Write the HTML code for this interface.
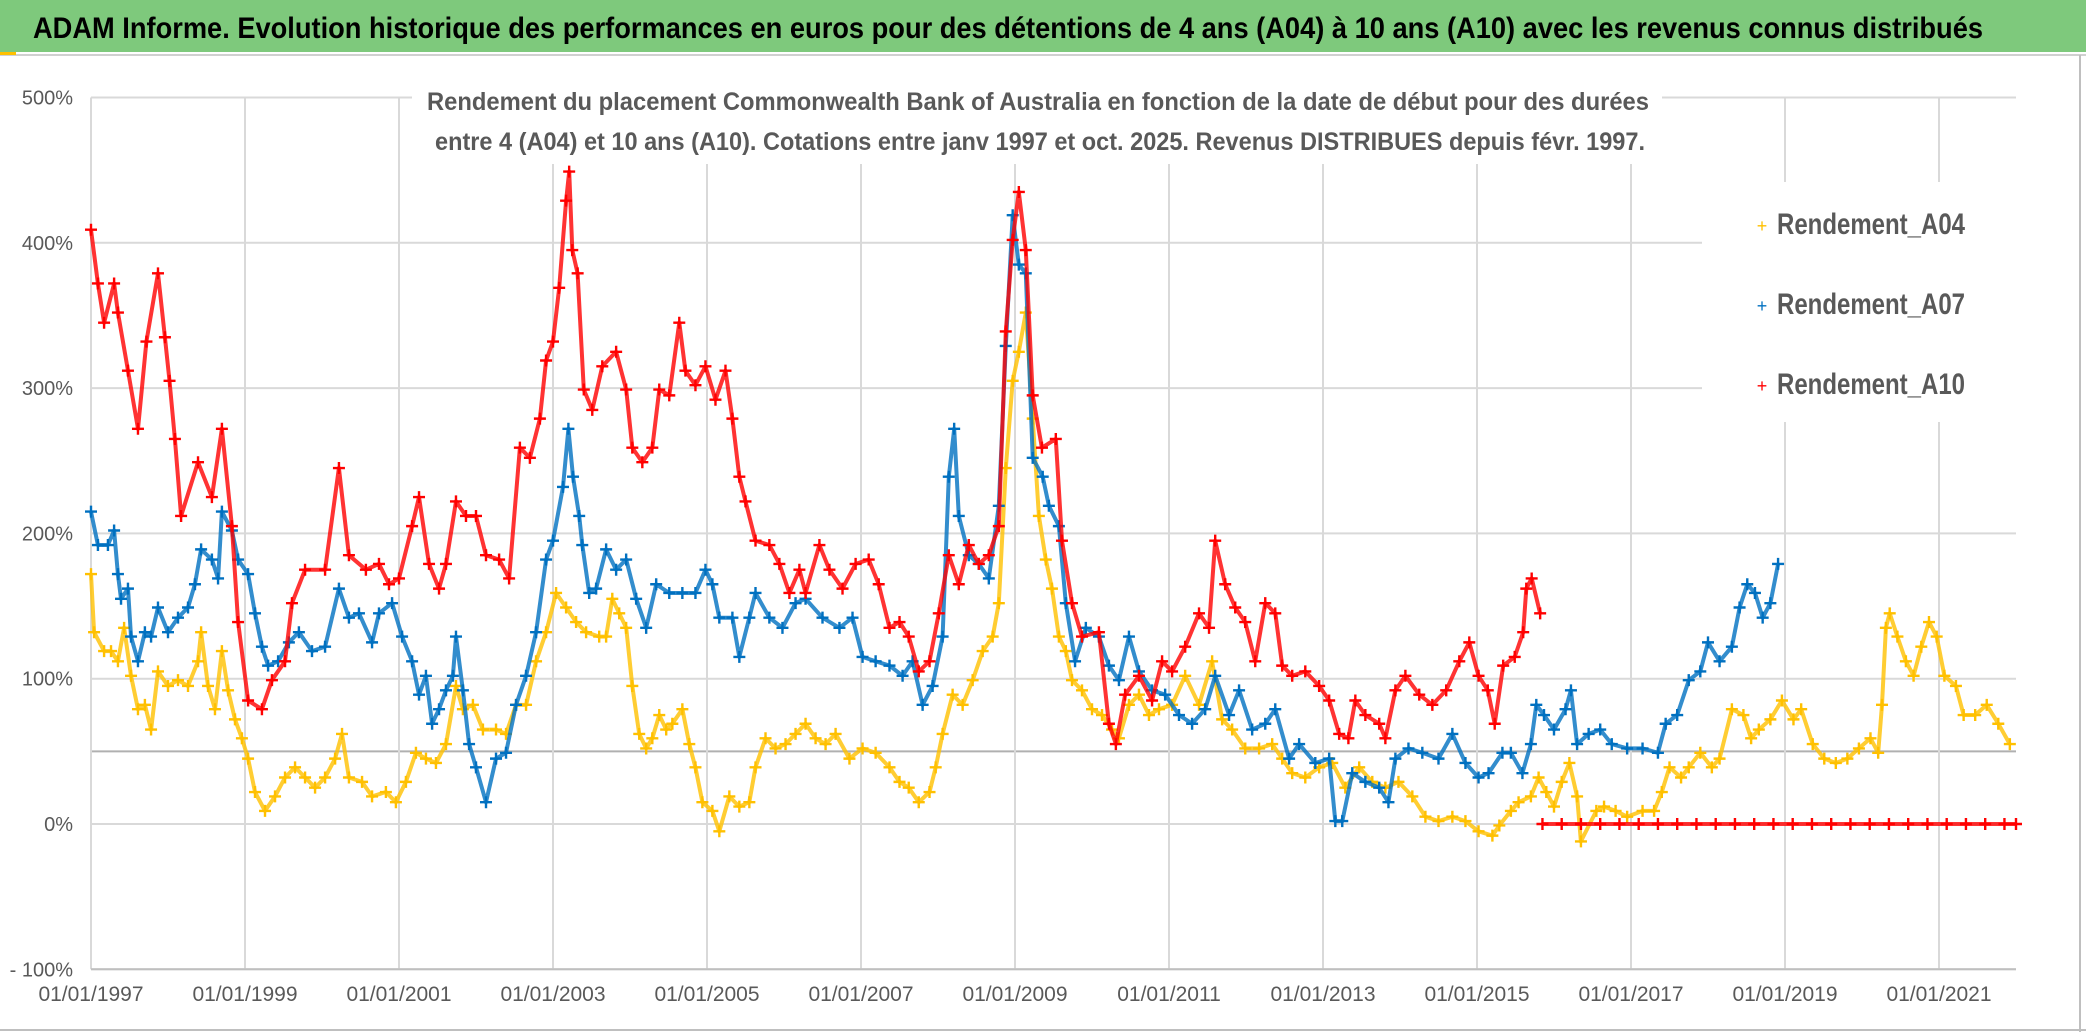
<!DOCTYPE html>
<html><head><meta charset="utf-8"><style>
html,body{margin:0;padding:0;background:#fff;}
svg{display:block;font-family:"Liberation Sans Narrow","Liberation Sans",sans-serif;}
</style></head><body>
<svg id="chart" width="2086" height="1032" viewBox="0 0 2086 1032" xmlns="http://www.w3.org/2000/svg">
<rect x="0" y="0" width="2086" height="1032" fill="#fff"/>
<rect x="0" y="0" width="2086" height="52" fill="#7ec97c"/>
<line x1="0" y1="55" x2="2086" y2="55" stroke="#d0d0d0" stroke-width="2"/>
<rect x="0" y="52" width="16" height="3" fill="#ffc000"/>
<text x="33" y="38" font-size="30" font-weight="bold" fill="#000" textLength="1950" lengthAdjust="spacingAndGlyphs">ADAM Informe. Evolution historique des performances en euros pour des détentions de 4 ans (A04) à 10 ans (A10) avec les revenus connus distribués</text>
<line x1="2080" y1="55" x2="2080" y2="1032" stroke="#bfbfbf" stroke-width="2"/>
<line x1="0" y1="1030" x2="2086" y2="1030" stroke="#bfbfbf" stroke-width="2"/>
<g id="grid"></g>
<g id="axes"></g>
<g id="series"></g>
<rect x="412" y="86" width="1250" height="78" fill="#fff"/>
<text x="1038" y="110" font-size="25" font-weight="bold" fill="#595959" text-anchor="middle" textLength="1222" lengthAdjust="spacingAndGlyphs">Rendement du placement Commonwealth Bank of Australia en fonction de la date de début pour des durées</text>
<text x="1040" y="150" font-size="25" font-weight="bold" fill="#595959" text-anchor="middle" textLength="1210" lengthAdjust="spacingAndGlyphs">entre 4 (A04) et 10 ans (A10). Cotations entre janv 1997 et oct. 2025. Revenus DISTRIBUES depuis févr. 1997.</text>
<g>
<rect x="1702" y="182" width="314" height="240" fill="#fff"/>
<g>
<text x="1762" y="232" font-size="18" fill="#ffc000" text-anchor="middle">+</text>
<text x="1777" y="234" font-size="30" font-weight="bold" fill="#595959" textLength="188" lengthAdjust="spacingAndGlyphs">Rendement_A04</text></g>
<g>
<text x="1762" y="312" font-size="18" fill="#0070c0" text-anchor="middle">+</text>
<text x="1777" y="314" font-size="30" font-weight="bold" fill="#595959" textLength="188" lengthAdjust="spacingAndGlyphs">Rendement_A07</text></g>
<g>
<text x="1762" y="392" font-size="18" fill="#ff0000" text-anchor="middle">+</text>
<text x="1777" y="394" font-size="30" font-weight="bold" fill="#595959" textLength="188" lengthAdjust="spacingAndGlyphs">Rendement_A10</text></g>
</g>
</svg>
<script>
const yTicks = [500,400,300,200,100,0,-100];
const yTickLabels = ["500%","400%","300%","200%","100%","0%","- 100%"];
const xTicks = [1997,1999,2001,2003,2005,2007,2009,2011,2013,2015,2017,2019,2021];
const xTickLabels = ["01/01/1997","01/01/1999","01/01/2001","01/01/2003","01/01/2005","01/01/2007","01/01/2009","01/01/2011","01/01/2013","01/01/2015","01/01/2017","01/01/2019","01/01/2021"];

const datesA04 = [1997.0,1997.04,1997.17,1997.26,1997.35,1997.43,1997.52,1997.61,1997.7,1997.78,1997.87,1998.0,1998.13,1998.26,1998.39,1998.43,1998.52,1998.61,1998.7,1998.78,1998.87,1998.96,1999.04,1999.13,1999.26,1999.39,1999.52,1999.65,1999.78,1999.91,2000.04,2000.17,2000.26,2000.35,2000.52,2000.65,2000.83,2000.96,2001.09,2001.22,2001.35,2001.48,2001.61,2001.74,2001.83,2001.96,2002.09,2002.26,2002.39,2002.52,2002.65,2002.78,2002.91,2003.04,2003.17,2003.3,2003.43,2003.6,2003.69,2003.77,2003.86,2003.95,2004.03,2004.12,2004.21,2004.29,2004.38,2004.47,2004.55,2004.68,2004.77,2004.85,2004.94,2005.07,2005.16,2005.29,2005.42,2005.55,2005.63,2005.76,2005.89,2006.02,2006.15,2006.28,2006.41,2006.54,2006.67,2006.85,2007.02,2007.19,2007.37,2007.5,2007.62,2007.75,2007.89,2007.97,2008.06,2008.19,2008.32,2008.45,2008.58,2008.71,2008.79,2008.88,2008.97,2009.05,2009.14,2009.23,2009.31,2009.4,2009.48,2009.57,2009.66,2009.74,2009.87,2010.0,2010.13,2010.26,2010.35,2010.48,2010.61,2010.74,2010.87,2011.04,2011.21,2011.39,2011.56,2011.69,2011.82,2011.99,2012.17,2012.34,2012.47,2012.6,2012.77,2012.95,2013.12,2013.29,2013.47,2013.64,2013.81,2013.98,2014.16,2014.33,2014.5,2014.68,2014.85,2015.02,2015.2,2015.29,2015.44,2015.54,2015.7,2015.8,2015.9,2016.0,2016.1,2016.2,2016.3,2016.35,2016.55,2016.65,2016.8,2016.95,2017.15,2017.3,2017.4,2017.5,2017.65,2017.75,2017.9,2018.05,2018.15,2018.31,2018.46,2018.56,2018.66,2018.81,2018.96,2019.11,2019.21,2019.36,2019.51,2019.66,2019.81,2019.96,2020.11,2020.21,2020.26,2020.31,2020.36,2020.46,2020.57,2020.67,2020.77,2020.87,2020.97,2021.07,2021.22,2021.32,2021.47,2021.62,2021.77,2021.92];
const valuesA04 = [172,132,119,119,112,135,102,79,82,65,105,95,99,95,112,132,95,79,119,92,72,59,45,22,9,19,32,39,32,25,32,45,62,32,29,19,22,15,29,49,45,42,55,95,79,82,65,65,62,82,82,112,132,159,149,139,132,129,129,155,145,135,95,62,52,59,75,65,69,79,55,39,15,9,-5,19,12,15,39,59,52,55,62,69,59,55,62,45,52,49,39,29,25,15,22,39,62,89,82,99,119,129,152,245,305,325,352,279,212,182,162,129,119,99,92,79,75,65,59,82,89,75,79,82,102,82,112,72,65,52,52,55,45,35,32,39,42,25,39,29,25,29,19,5,2,5,2,-5,-8,-1,9,15,19,32,22,12,29,42,19,-12,9,12,9,5,9,9,22,39,32,39,49,39,45,79,75,59,65,72,85,72,79,55,45,42,45,52,59,49,82,135,145,129,112,102,122,139,129,102,95,75,75,82,69,55];

const datesA07 = [1997.0,1997.09,1997.22,1997.3,1997.35,1997.39,1997.48,1997.52,1997.61,1997.7,1997.78,1997.87,1998.0,1998.13,1998.26,1998.35,1998.43,1998.57,1998.65,1998.7,1998.83,1998.91,1999.04,1999.13,1999.22,1999.3,1999.43,1999.57,1999.7,1999.87,2000.04,2000.22,2000.35,2000.48,2000.65,2000.74,2000.91,2001.04,2001.17,2001.26,2001.35,2001.43,2001.52,2001.61,2001.7,2001.74,2001.83,2001.91,2002.0,2002.13,2002.26,2002.39,2002.52,2002.65,2002.78,2002.91,2003.0,2003.13,2003.2,2003.26,2003.34,2003.38,2003.47,2003.56,2003.69,2003.82,2003.95,2004.08,2004.21,2004.34,2004.51,2004.68,2004.85,2004.98,2005.07,2005.16,2005.33,2005.42,2005.55,2005.63,2005.81,2005.98,2006.15,2006.28,2006.5,2006.72,2006.89,2007.02,2007.19,2007.37,2007.54,2007.67,2007.8,2007.93,2008.06,2008.14,2008.21,2008.27,2008.4,2008.53,2008.66,2008.79,2008.88,2008.97,2009.05,2009.14,2009.23,2009.36,2009.44,2009.57,2009.66,2009.78,2009.92,2010.09,2010.22,2010.35,2010.48,2010.61,2010.78,2010.95,2011.13,2011.3,2011.47,2011.6,2011.78,2011.91,2012.08,2012.25,2012.38,2012.56,2012.69,2012.9,2013.08,2013.16,2013.25,2013.38,2013.55,2013.73,2013.85,2013.94,2014.11,2014.29,2014.5,2014.68,2014.85,2015.02,2015.15,2015.33,2015.44,2015.59,2015.7,2015.77,2015.87,2016.0,2016.15,2016.22,2016.3,2016.45,2016.6,2016.75,2016.95,2017.15,2017.35,2017.45,2017.6,2017.75,2017.9,2018.0,2018.15,2018.31,2018.41,2018.51,2018.61,2018.71,2018.81,2018.91];
const valuesA07 = [215,192,192,202,172,155,162,129,112,132,129,149,132,142,149,165,189,182,169,215,202,182,172,145,122,109,112,125,132,119,122,162,142,145,125,145,152,129,112,89,102,69,79,92,102,129,92,55,39,15,45,49,82,102,132,182,195,232,272,239,212,192,159,162,189,175,182,155,135,165,159,159,159,175,165,142,142,115,142,159,142,135,152,155,142,135,142,115,112,109,102,112,82,95,129,239,272,212,185,179,169,219,329,419,385,379,252,239,219,205,152,112,135,129,109,99,129,105,92,89,75,69,79,102,75,92,65,69,79,45,55,42,45,2,2,35,29,25,15,45,52,49,45,62,42,32,35,49,49,35,55,82,75,65,79,92,55,62,65,55,52,52,49,69,75,99,105,125,112,122,149,165,159,142,152,179];

const datesA10 = [1997.0,1997.09,1997.17,1997.3,1997.35,1997.48,1997.61,1997.72,1997.87,1997.96,1998.02,1998.09,1998.17,1998.39,1998.57,1998.7,1998.83,1998.91,1999.04,1999.22,1999.35,1999.52,1999.61,1999.78,2000.04,2000.22,2000.35,2000.57,2000.74,2000.87,2001.0,2001.17,2001.26,2001.39,2001.52,2001.61,2001.74,2001.87,2002.0,2002.13,2002.3,2002.43,2002.57,2002.7,2002.83,2002.91,2003.0,2003.08,2003.17,2003.21,2003.25,2003.32,2003.4,2003.51,2003.64,2003.82,2003.95,2004.03,2004.16,2004.29,2004.38,2004.51,2004.64,2004.72,2004.85,2004.98,2005.11,2005.24,2005.33,2005.42,2005.5,2005.63,2005.81,2005.94,2006.07,2006.2,2006.28,2006.46,2006.59,2006.76,2006.93,2007.1,2007.23,2007.37,2007.5,2007.62,2007.75,2007.89,2008.01,2008.14,2008.27,2008.4,2008.53,2008.66,2008.79,2008.88,2008.97,2009.05,2009.14,2009.23,2009.35,2009.53,2009.61,2009.74,2009.87,2010.09,2010.22,2010.31,2010.43,2010.61,2010.78,2010.91,2011.04,2011.21,2011.39,2011.52,2011.6,2011.73,2011.86,2011.99,2012.12,2012.25,2012.38,2012.47,2012.6,2012.77,2012.95,2013.08,2013.21,2013.33,2013.42,2013.55,2013.73,2013.81,2013.94,2014.07,2014.25,2014.42,2014.6,2014.77,2014.9,2015.02,2015.14,2015.23,2015.34,2015.49,2015.6,2015.64,2015.71,2015.82,2015.85,2016.1,2016.35,2016.6,2016.85,2017.1,2017.35,2017.6,2017.85,2018.1,2018.35,2018.6,2018.85,2019.1,2019.35,2019.6,2019.85,2020.1,2020.35,2020.6,2020.85,2021.1,2021.35,2021.6,2021.85,2022.0];
const valuesA10 = [409,372,345,372,352,312,272,332,379,335,305,265,212,249,225,272,205,139,85,79,99,112,152,175,175,245,185,175,179,165,169,205,225,179,162,179,222,212,212,185,182,169,259,252,279,319,332,369,429,449,395,379,299,285,315,325,299,259,249,259,299,295,345,312,302,315,292,312,279,239,222,195,192,179,159,175,159,192,175,162,179,182,165,135,139,129,105,112,145,185,165,192,179,185,205,339,402,435,395,295,259,265,195,152,129,132,69,55,89,102,85,112,105,122,145,135,195,165,149,139,112,152,145,109,102,105,95,85,62,59,85,75,69,59,92,102,89,82,92,112,125,102,92,69,109,115,132,162,169,145,0,0,0,0,0,0,0,0,0,0,0,0,0,0,0,0,0,0,0,0,0,0,0,0,0,0];

const NS = "http://www.w3.org/2000/svg";
const X0 = 91, PX_PER_YEAR = 77, Y0 = 824, PX_PER_PCT = 1.453, XR = 2016;
function xScale(year){ return X0 + (year - 1997) * PX_PER_YEAR; }
function yScale(v){ return Y0 - v * PX_PER_PCT; }
function mk(tag, attrs, parent){ const e = document.createElementNS(NS, tag); for (const k in attrs) e.setAttribute(k, attrs[k]); parent.appendChild(e); return e; }

const grid = document.getElementById('grid');
const axes = document.getElementById('axes');
yTicks.forEach((t, i) => {
  const y = yScale(t);
  const ln = mk('line', {x1: X0, x2: XR, y1: y, y2: y, stroke: '#d9d9d9', 'stroke-width': 2}, grid);
  
  
  const tx = mk('text', {x: 73, y: y + 7, 'font-size': 20, fill: '#595959', 'text-anchor': 'end'}, axes);
  tx.textContent = yTickLabels[i];
  
  
});
const ref = mk('line', {x1: X0, x2: XR, y1: yScale(50), y2: yScale(50), stroke: '#b0b0b0', 'stroke-width': 2}, grid);


xTicks.forEach((t, i) => {
  const x = xScale(t);
  const ln = mk('line', {x1: x, x2: x, y1: yScale(500), y2: yScale(-100), stroke: '#d9d9d9', 'stroke-width': 2}, grid);
  
  
  const tx = mk('text', {x: x, y: 1001, 'font-size': 21, fill: '#595959', 'text-anchor': 'middle'}, axes);
  tx.textContent = xTickLabels[i];
  
  
});
const ax = mk('line', {x1: X0, x2: XR, y1: yScale(-100), y2: yScale(-100), stroke: '#bfbfbf', 'stroke-width': 2}, axes);



const seriesG = document.getElementById('series');
function drawSeries(dates, values, color, name){
  const g = mk('g', {}, seriesG);
  
  
  const segs = [[]];
  dates.forEach((d, i) => {
    if (i > 0 && values[i] === 0 && values[i-1] > 50) segs.push([]);
    segs[segs.length-1].push(xScale(d).toFixed(1) + ',' + yScale(values[i]).toFixed(1));
  });
  segs.forEach(s => {
    const pl = mk('polyline', {points: s.join(' '), fill: 'none', stroke: color, 'stroke-width': 4, 'stroke-linejoin': 'round', opacity: 0.8}, g);
    
    
  });
  dates.forEach((d, i) => {
    const x = xScale(d), y = yScale(values[i]);
    const p = mk('path', {d: `M${x-6},${y}H${x+6}M${x},${y-6}V${y+6}`, stroke: color, 'stroke-width': 2.4}, g);
    
    
  });
}
drawSeries(datesA04, valuesA04, '#ffc000', 'series-a04');
drawSeries(datesA07, valuesA07, '#0070c0', 'series-a07');
drawSeries(datesA10, valuesA10, '#ff0000', 'series-a10');
</script>
</body></html>
